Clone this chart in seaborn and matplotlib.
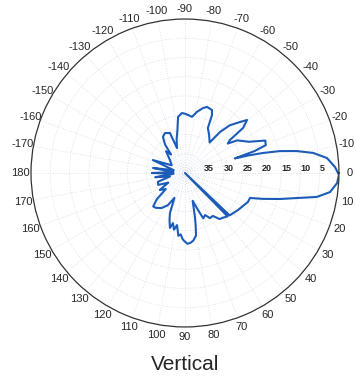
import numpy as np
import pandas as pd
import matplotlib
matplotlib.use("Agg")
import matplotlib.pyplot as plt
import seaborn as sns

sns.set_style("white")
plt.rcParams["font.family"] = ["Liberation Sans", "DejaVu Sans"]

# Angle (degrees, clockwise from east, as labelled) and attenuation (dB, 0 = outer ring)
angle_deg = [
    -180, -176, -171, -166, -158, -150, -140, -131, -127, -125, -121.4, -116.6,
    -110.6, -107.7, -104, -100, -97, -92.9, -90, -87, -82.9, -78.9, -74.5,
    -71.6, -66.8, -65, -63, -58, -51, -49.5, -46.8, -42.8, -40.5, -37.8, -36.3,
    -34.5, -32, -26, -22, -19, -17.5, -16.3, -15.5, -14.4, -13, -11.1, -8.9,
    -6, -2.3, 0.7, 3.8, 7.5, 10.3, 12.6, 15.3, 18.4, 21, 24.7, 34.9, 43.5,
    44.5, 45.5, 50, 53, 57, 61, 64.5, 68, 70.6, 74.6, 77.2, 78.5, 80, 83,
    85.5, 88, 90.5, 92, 94, 96, 98.7, 101, 103.5, 105.3, 108, 110.6, 113,
    118, 124, 130, 133.5, 137, 140, 146, 150, 156, 162, 167, 172, 176, 180,
]
gain_db = [
    31.4, 37, 31.6, 37, 31.0, 36, 35, 32.5, 34, 31, 29.0, 28.4,
    28.9, 33.2, 31, 28.7, 25.3, 24.4, 24.6, 24.9, 25.3, 23.8, 22.5,
    21.9, 22.2, 23.4, 26.9, 28.2, 29.8, 26, 23, 20.5, 18.8, 20.9, 25.5,
    26.5, 24, 21.5, 17.5, 17.8, 21, 26.5, 23, 19.1, 14.7, 10.4, 6.3,
    2.9, 1.0, 0.0, 0.4, 2.0, 5.2, 10.2, 14.4, 18.7, 21.9, 22.0, 23.2, 24.0,
    40, 24.2, 24.8, 25.0, 26.7, 26.6, 27.9, 27.3, 29.8, 32.5, 28.3, 26, 23.5, 22.3,
    21.8, 21.6, 22.3, 22.8, 24.0, 23.6, 26.3, 25.0, 26.6, 25.2, 27.0, 28.9, 33,
    30.5, 29, 28.2, 28.0, 30, 33.5, 32.1, 35, 32.4, 32.6, 36, 32.2, 37, 31.4,
]

theta_ticks = list(range(0, 360, 10))
theta_labels = [
    "0", "10", "20", "30", "40", "50", "60", "70", "80", "90",
    "100", "110", "120", "130", "140", "150", "160", "170", "180",
    "-170", "-160", "-150", "-140", "-130", "-120", "-110", "-100",
    "-90", "-80", "-70", "-60", "-50", "-40", "-30", "-20", "-10",
]
r_ticks = [35, 30, 25, 20, 15, 10, 5]
r_labels = ["35", "30", "25", "20", "15", "10", "5"]

fig = plt.figure(figsize=(3.56, 3.79), dpi=100)
ax = fig.add_axes([0.0871, 0.1372, 0.865, 0.8127], projection="polar")
ax.set_theta_zero_location("E")
ax.set_theta_direction(-1)
ax.set_rlim(40, 0)

df = pd.DataFrame({"theta": np.deg2rad(angle_deg), "gain": gain_db})
sns.lineplot(data=df, x="theta", y="gain", ax=ax, sort=False, estimator=None,
             color="#1c5cb8", linewidth=1.5)
ax.set_xlabel("")
ax.set_ylabel("")

ax.set_thetagrids(theta_ticks, theta_labels, fontsize=8)
ax.tick_params(axis="x", pad=-3)
ax.set_rgrids(r_ticks, labels=r_labels, angle=0, fontsize=6.5, fontweight="bold")
ax.grid(color="#dbe2ee", linestyle=":", linewidth=0.7)
ax.spines["polar"].set_color("#333333")
ax.spines["polar"].set_linewidth(0.9)

fig.text(0.52, 1 - 365 / 379, "Vertical", ha="center", va="center", fontsize=15)
fig.savefig("out.png", dpi=100)
